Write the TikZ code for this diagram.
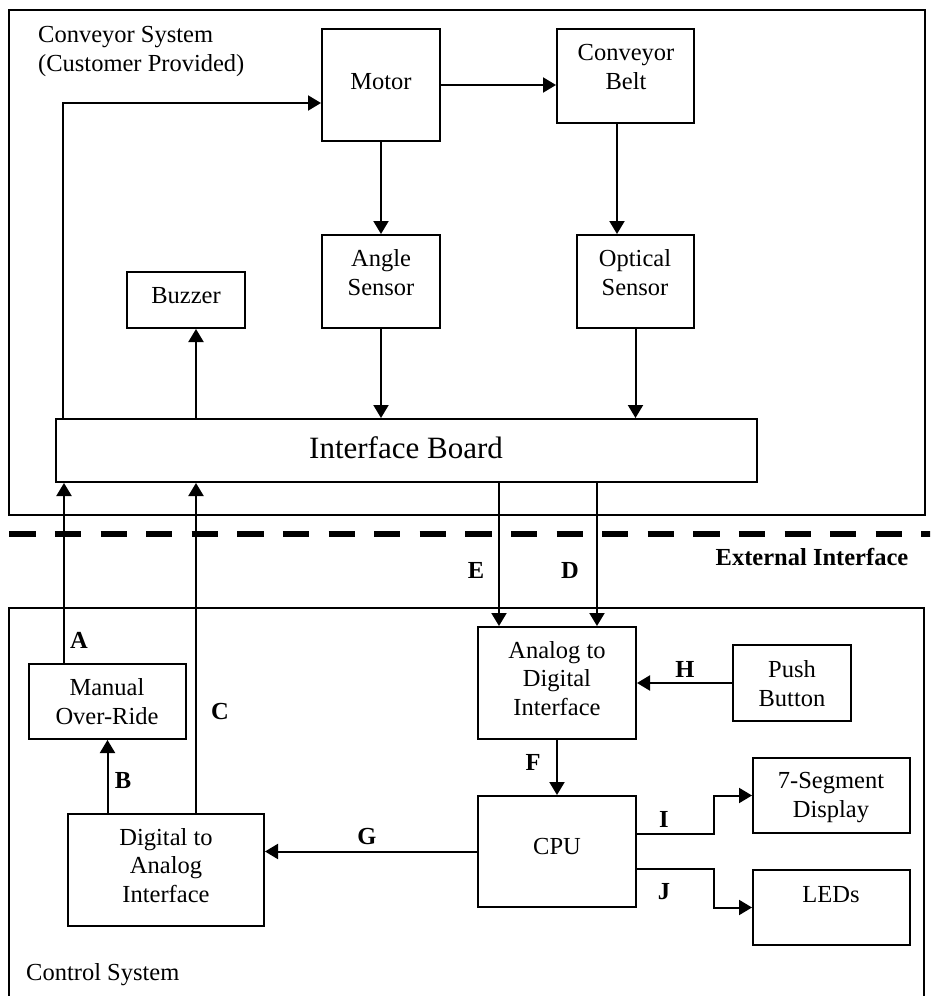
\documentclass[tikz,border=0pt]{standalone}
\usepackage{fontspec}
\setmainfont{Liberation Serif}
\usetikzlibrary{arrows.meta,fit}
\begin{document}
\begin{tikzpicture}[x=1pt,y=-1pt,
  blk/.style={draw, line width=2pt, inner sep=0pt},
  arr/.style={line width=2pt, -{Triangle[length=13pt,width=15pt]}},
  txt/.style={font=\fontsize{24.5}{28.5}\selectfont, inner sep=0pt, align=center, anchor=base},
  lbl/.style={font=\fontsize{24.5}{28.5}\selectfont\bfseries, inner sep=0pt, anchor=base},
  sepline/.style={line width=6.7pt, dash pattern=on 26.3pt off 19.3pt}]
\clip (0,0) rectangle (930,996);

% enclosing regions (text nodes are anchored at the baseline of their last line)
\node[blk, fit={(9,10) (925,515)}] (conveyor) {};
\node[blk, fit={(9,608) (924,1010)}] (control) {};
\node[txt, align=left, anchor=base west] (convtxt) at (38,71) {Conveyor System\\(Customer Provided)};
\node[txt, anchor=base west] (ctrltxt) at (26,980) {Control System};

% conveyor side blocks
\node[blk, fit={(322,29) (440,141)}] (motor) {};
\node[blk, fit={(557,29) (694,123)}] (belt) {};
\node[blk, fit={(322,235) (440,328)}] (angle) {};
\node[blk, fit={(577,235) (694,328)}] (optical) {};
\node[blk, fit={(127,272) (245,328)}] (buzzer) {};
\node[blk, fit={(56,419) (757,482)}] (board) {};

\node[txt] (motortxt) at (381,89) {Motor};
\node[txt] (belttxt) at (626,89) {Conveyor\\Belt};
\node[txt] (angletxt) at (381,295) {Angle\\Sensor};
\node[txt] (opticaltxt) at (635,295) {Optical\\Sensor};
\node[txt] (buzzertxt) at (186,303) {Buzzer};
\node[txt, font=\fontsize{31}{36}\selectfont] (boardtxt) at (406,458) {Interface Board};

% control side blocks
\node[blk, fit={(29,664) (186,739)}] (manual) {};
\node[blk, fit={(68,814) (264,926)}] (dac) {};
\node[blk, fit={(478,627) (636,739)}] (adc) {};
\node[blk, fit={(733,645) (851,721)}] (push) {};
\node[blk, fit={(478,796) (636,907)}] (cpu) {};
\node[blk, fit={(753,758) (910,833)}] (seg) {};
\node[blk, fit={(753,870) (910,945)}] (leds) {};

\node[txt] (manualtxt) at (107,724) {Manual\\Over-Ride};
\node[txt] (dactxt) at (166,902) {Digital to\\Analog\\Interface};
\node[txt] (adctxt) at (557,715) {Analog to\\Digital\\Interface};
\node[txt] (pushtxt) at (792,706) {Push\\Button};
\node[txt] (cputxt) at (557,854) {CPU};
\node[txt] (segtxt) at (831,817) {7-Segment\\Display};
\node[txt] (ledstxt) at (831,902) {LEDs};

% external interface boundary
\coordinate (sepL) at (9.3,534);
\coordinate (sepR) at (935,534);
\draw[sepline] (sepL) -- (sepR);
\node[lbl] (exttxt) at (812,565) {External Interface};

% signal columns
\coordinate (colA) at (64,0);
\coordinate (colC) at (196,0);
\coordinate (colE) at (499,0);
\coordinate (colD) at (597,0);
\coordinate (colBelt) at (617,0);
\coordinate (colIJ) at (714,0);

% conveyor connectors
\draw[arr] (motor.east) -- (motor.east -| belt.west);
\draw[arr] ([xshift=8pt]board.north west) |- ([yshift=-75pt]motor.north west);
\draw[arr] (motor.south) -- (angle.north);
\draw[arr] (belt.south -| colBelt) -- (optical.north -| colBelt);
\draw[arr] (angle.south) -- (angle.south |- board.north);
\draw[arr] (optical.south) -- (optical.south |- board.north);
\draw[arr] (board.north -| colC) -- (buzzer.south -| colC);

% interface connectors
\draw[arr] (manual.north -| colA) -- (board.south -| colA);
\draw[arr] (dac.north -| colC) -- (board.south -| colC);
\draw[arr] (board.south -| colE) -- (adc.north -| colE);
\draw[arr] (board.south -| colD) -- (adc.north -| colD);

% control connectors
\draw[arr] (dac.north -| manual.south) -- (manual.south);
\draw[arr] (push.west) -- (push.west -| adc.east);
\draw[arr] (adc.south) -- (cpu.north);
\draw[arr] (cpu.west) -- (cpu.west -| dac.east);
\draw[arr] (cpu.east |- seg.south) -| (colIJ |- seg.west) -- (seg.west);
\draw[arr] (cpu.east |- leds.north) -| (colIJ |- leds.west) -- (leds.west);

% signal labels
\node[lbl] (la) at (79,648) {A};
\node[lbl] (lb) at (123,788) {B};
\node[lbl] (lc) at (220,719) {C};
\node[lbl] (ld) at (570,578) {D};
\node[lbl] (le) at (476,578) {E};
\node[lbl] (lf) at (533,770) {F};
\node[lbl] (lg) at (367,844) {G};
\node[lbl] (lh) at (685,677) {H};
\node[lbl] (li) at (664,827) {I};
\node[lbl] (lj) at (664,899) {J};
\end{tikzpicture}
\end{document}
